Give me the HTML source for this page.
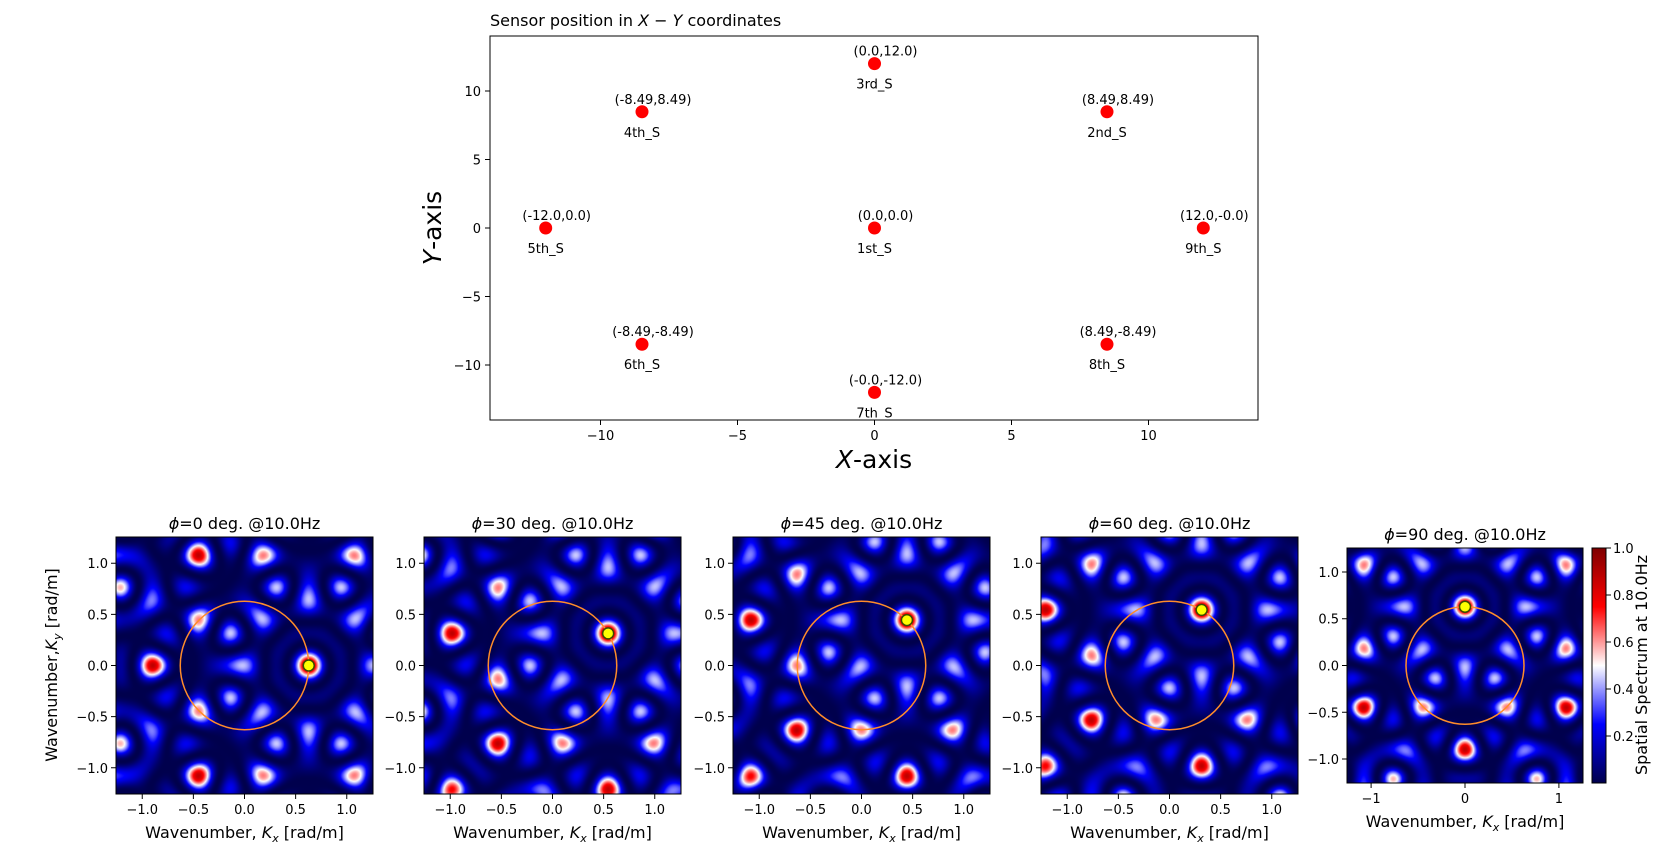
<!DOCTYPE html>
<html><head><meta charset="utf-8"><style>
body{margin:0;background:#fff;width:1655px;height:847px;overflow:hidden;position:relative;font-family:"DejaVu Sans","Liberation Sans",sans-serif}
canvas{position:absolute}
svg{position:absolute;left:0;top:0}
</style></head><body>
<canvas id="c0" style="left:116px;top:537px" width="257" height="257"></canvas>
<canvas id="c1" style="left:424px;top:537px" width="257" height="257"></canvas>
<canvas id="c2" style="left:733px;top:537px" width="257" height="257"></canvas>
<canvas id="c3" style="left:1041px;top:537px" width="257" height="257"></canvas>
<canvas id="c4" style="left:1347px;top:548px" width="236" height="235"></canvas>
<canvas id="cb" style="left:1592px;top:548px" width="14" height="235"></canvas>
<svg id="s" width="1655" height="847" xmlns="http://www.w3.org/2000/svg" font-family="DejaVu Sans, Liberation Sans, sans-serif"></svg>
<script>
const NS="http://www.w3.org/2000/svg",S=document.getElementById('s');
function el(t,a,txt){const e=document.createElementNS(NS,t);for(const k in a)e.setAttribute(k,a[k]);if(txt!==undefined)e.innerHTML=txt;S.appendChild(e);return e;}
const TL=490,TR=1258,TT=36,TB=420,cx=874.5,cy=228,sx=27.4,sy=13.7;
el('rect',{x:TL,y:TT,width:TR-TL,height:TB-TT,fill:'none',stroke:'#000','stroke-width':1});
for(const v of [-10,-5,0,5,10]){
 const x=cx+v*sx;el('line',{x1:x,x2:x,y1:TB,y2:TB+5,stroke:'#000'});
 el('text',{x:x,y:TB+20,'font-size':13,'text-anchor':'middle'},v<0?'−'+(-v):v);
 const y=cy-v*sy;el('line',{x1:TL-5,x2:TL,y1:y,y2:y,stroke:'#000'});
 el('text',{x:TL-9,y:y+5,'font-size':13,'text-anchor':'end'},v<0?'−'+(-v):v);
}
el('text',{x:490,y:26,'font-size':16},'Sensor position in <tspan font-style="italic">X</tspan> − <tspan font-style="italic">Y</tspan> coordinates');
el('text',{x:874,y:468,'font-size':25,'text-anchor':'middle'},'<tspan font-style="italic">X</tspan>-axis');
el('text',{x:0,y:0,'font-size':25,'text-anchor':'middle',transform:'translate(441,228) rotate(-90)'},'<tspan font-style="italic">Y</tspan>-axis');
const sens=[[0,0]];for(let k=1;k<=8;k++){const t=k*Math.PI/4;sens.push([12*Math.cos(t),12*Math.sin(t)]);}
const names=['1st_S','2nd_S','3rd_S','4th_S','5th_S','6th_S','7th_S','8th_S','9th_S'];
const coords=['(0.0,0.0)','(8.49,8.49)','(0.0,12.0)','(-8.49,8.49)','(-12.0,0.0)','(-8.49,-8.49)','(-0.0,-12.0)','(8.49,-8.49)','(12.0,-0.0)'];
sens.forEach((p,i)=>{const x=cx+p[0]*sx,y=cy-p[1]*sy;
 el('circle',{cx:x,cy:y,r:6.5,fill:'#ff0000'});
 el('text',{x:x+11,y:y-8,'font-size':13,'text-anchor':'middle'},coords[i]);
 el('text',{x:x,y:y+25,'font-size':13,'text-anchor':'middle'},names[i]);
});
const panels=[[116,537,257,257,0],[424,537,257,257,30],[733,537,257,257,45],[1041,537,257,257,60],[1347,548,236,235,90]];
const K=2*Math.PI*10/100,E=2*K;
function seis(v){v=Math.max(0,Math.min(1,v));const c=[[0,0,.3],[0,0,1],[1,1,1],[1,0,0],[.5,0,0]];const t=v*4;let i=Math.min(3,Math.floor(t));const f=t-i;return c[i].map((a,j)=>Math.round(255*(a+(c[i+1][j]-a)*f)));}
panels.forEach((P,idx)=>{
 const [L,T,W,H,ph]=P,cv=document.getElementById('c'+idx),ctx=cv.getContext('2d'),img=ctx.createImageData(W,H);
 const ksx=K*Math.cos(ph*Math.PI/180),ksy=K*Math.sin(ph*Math.PI/180);
 for(let j=0;j<H;j++)for(let i=0;i<W;i++){
  const kx=-E+(i+.5)/W*2*E-ksx,ky=E-(j+.5)/H*2*E-ksy;let re=0,im=0;
  for(const s of sens){const a=kx*s[0]+ky*s[1];re+=Math.cos(a);im+=Math.sin(a);}
  const v=(re*re+im*im)/81,c=seis(v),o=(j*W+i)*4;img.data[o]=c[0];img.data[o+1]=c[1];img.data[o+2]=c[2];img.data[o+3]=255;}
 ctx.putImageData(img,0,0);
 const ux=W/(2*E),uy=H/(2*E),ox=L+W/2,oy=T+H/2;
 el('rect',{x:L,y:T,width:W,height:H,fill:'none',stroke:'#000','stroke-width':1});
 el('ellipse',{cx:ox,cy:oy,rx:K*ux,ry:K*uy,fill:'none',stroke:'#ff8c2a','stroke-width':1.5});
 el('circle',{cx:ox+ksx*ux,cy:oy-ksy*uy,r:5.5,fill:'#ffff00',stroke:'#3a4a00','stroke-width':1.5});
 const xt=idx<4?[-1,-.5,0,.5,1]:[-1,0,1];
 xt.forEach(v=>{const x=ox+v*ux;el('line',{x1:x,x2:x,y1:T+H,y2:T+H+5,stroke:'#000'});
  const s=idx<4?(v<0?'−':'')+Math.abs(v).toFixed(1):(v<0?'−':'')+Math.abs(v);
  el('text',{x:x,y:T+H+20,'font-size':13,'text-anchor':'middle'},s);});
 [-1,-.5,0,.5,1].forEach(v=>{const y=oy-v*uy;el('line',{x1:L-5,x2:L,y1:y,y2:y,stroke:'#000'});
  el('text',{x:L-8,y:y+5,'font-size':13,'text-anchor':'end'},(v<0?'−':'')+Math.abs(v).toFixed(1));});
 el('text',{x:ox,y:T-8,'font-size':16,'text-anchor':'middle'},'<tspan font-style="italic">ϕ</tspan>=' + ph + ' deg. @10.0Hz');
 el('text',{x:ox,y:T+H+44,'font-size':16,'text-anchor':'middle'},'Wavenumber, <tspan font-style="italic">K</tspan><tspan font-size="11" dy="4" font-style="italic">x</tspan><tspan dy="-4"> [rad/m]</tspan>');
});
el('text',{x:0,y:0,'font-size':16,'text-anchor':'middle',transform:'translate(57,665) rotate(-90)'},'Wavenumber,<tspan font-style="italic">K</tspan><tspan font-size="11" dy="4" font-style="italic">y</tspan><tspan dy="-4"> [rad/m]</tspan>');
const cb=document.getElementById('cb').getContext('2d');
for(let j=0;j<235;j++){const c=seis(1-(j+.5)/235);cb.fillStyle='rgb('+c+')';cb.fillRect(0,j,14,1);}
el('rect',{x:1592,y:548,width:14,height:235,fill:'none',stroke:'#000','stroke-width':1});
[.2,.4,.6,.8,1].forEach(v=>{const y=783-v*235;el('line',{x1:1606,x2:1611,y1:y,y2:y,stroke:'#000'});
 el('text',{x:1613,y:y+5,'font-size':13},v.toFixed(1));});
el('text',{x:0,y:0,'font-size':16,'text-anchor':'middle',transform:'translate(1647,665) rotate(-90)'},'Spatial Spectrum at 10.0Hz');
</script>
</body></html>
